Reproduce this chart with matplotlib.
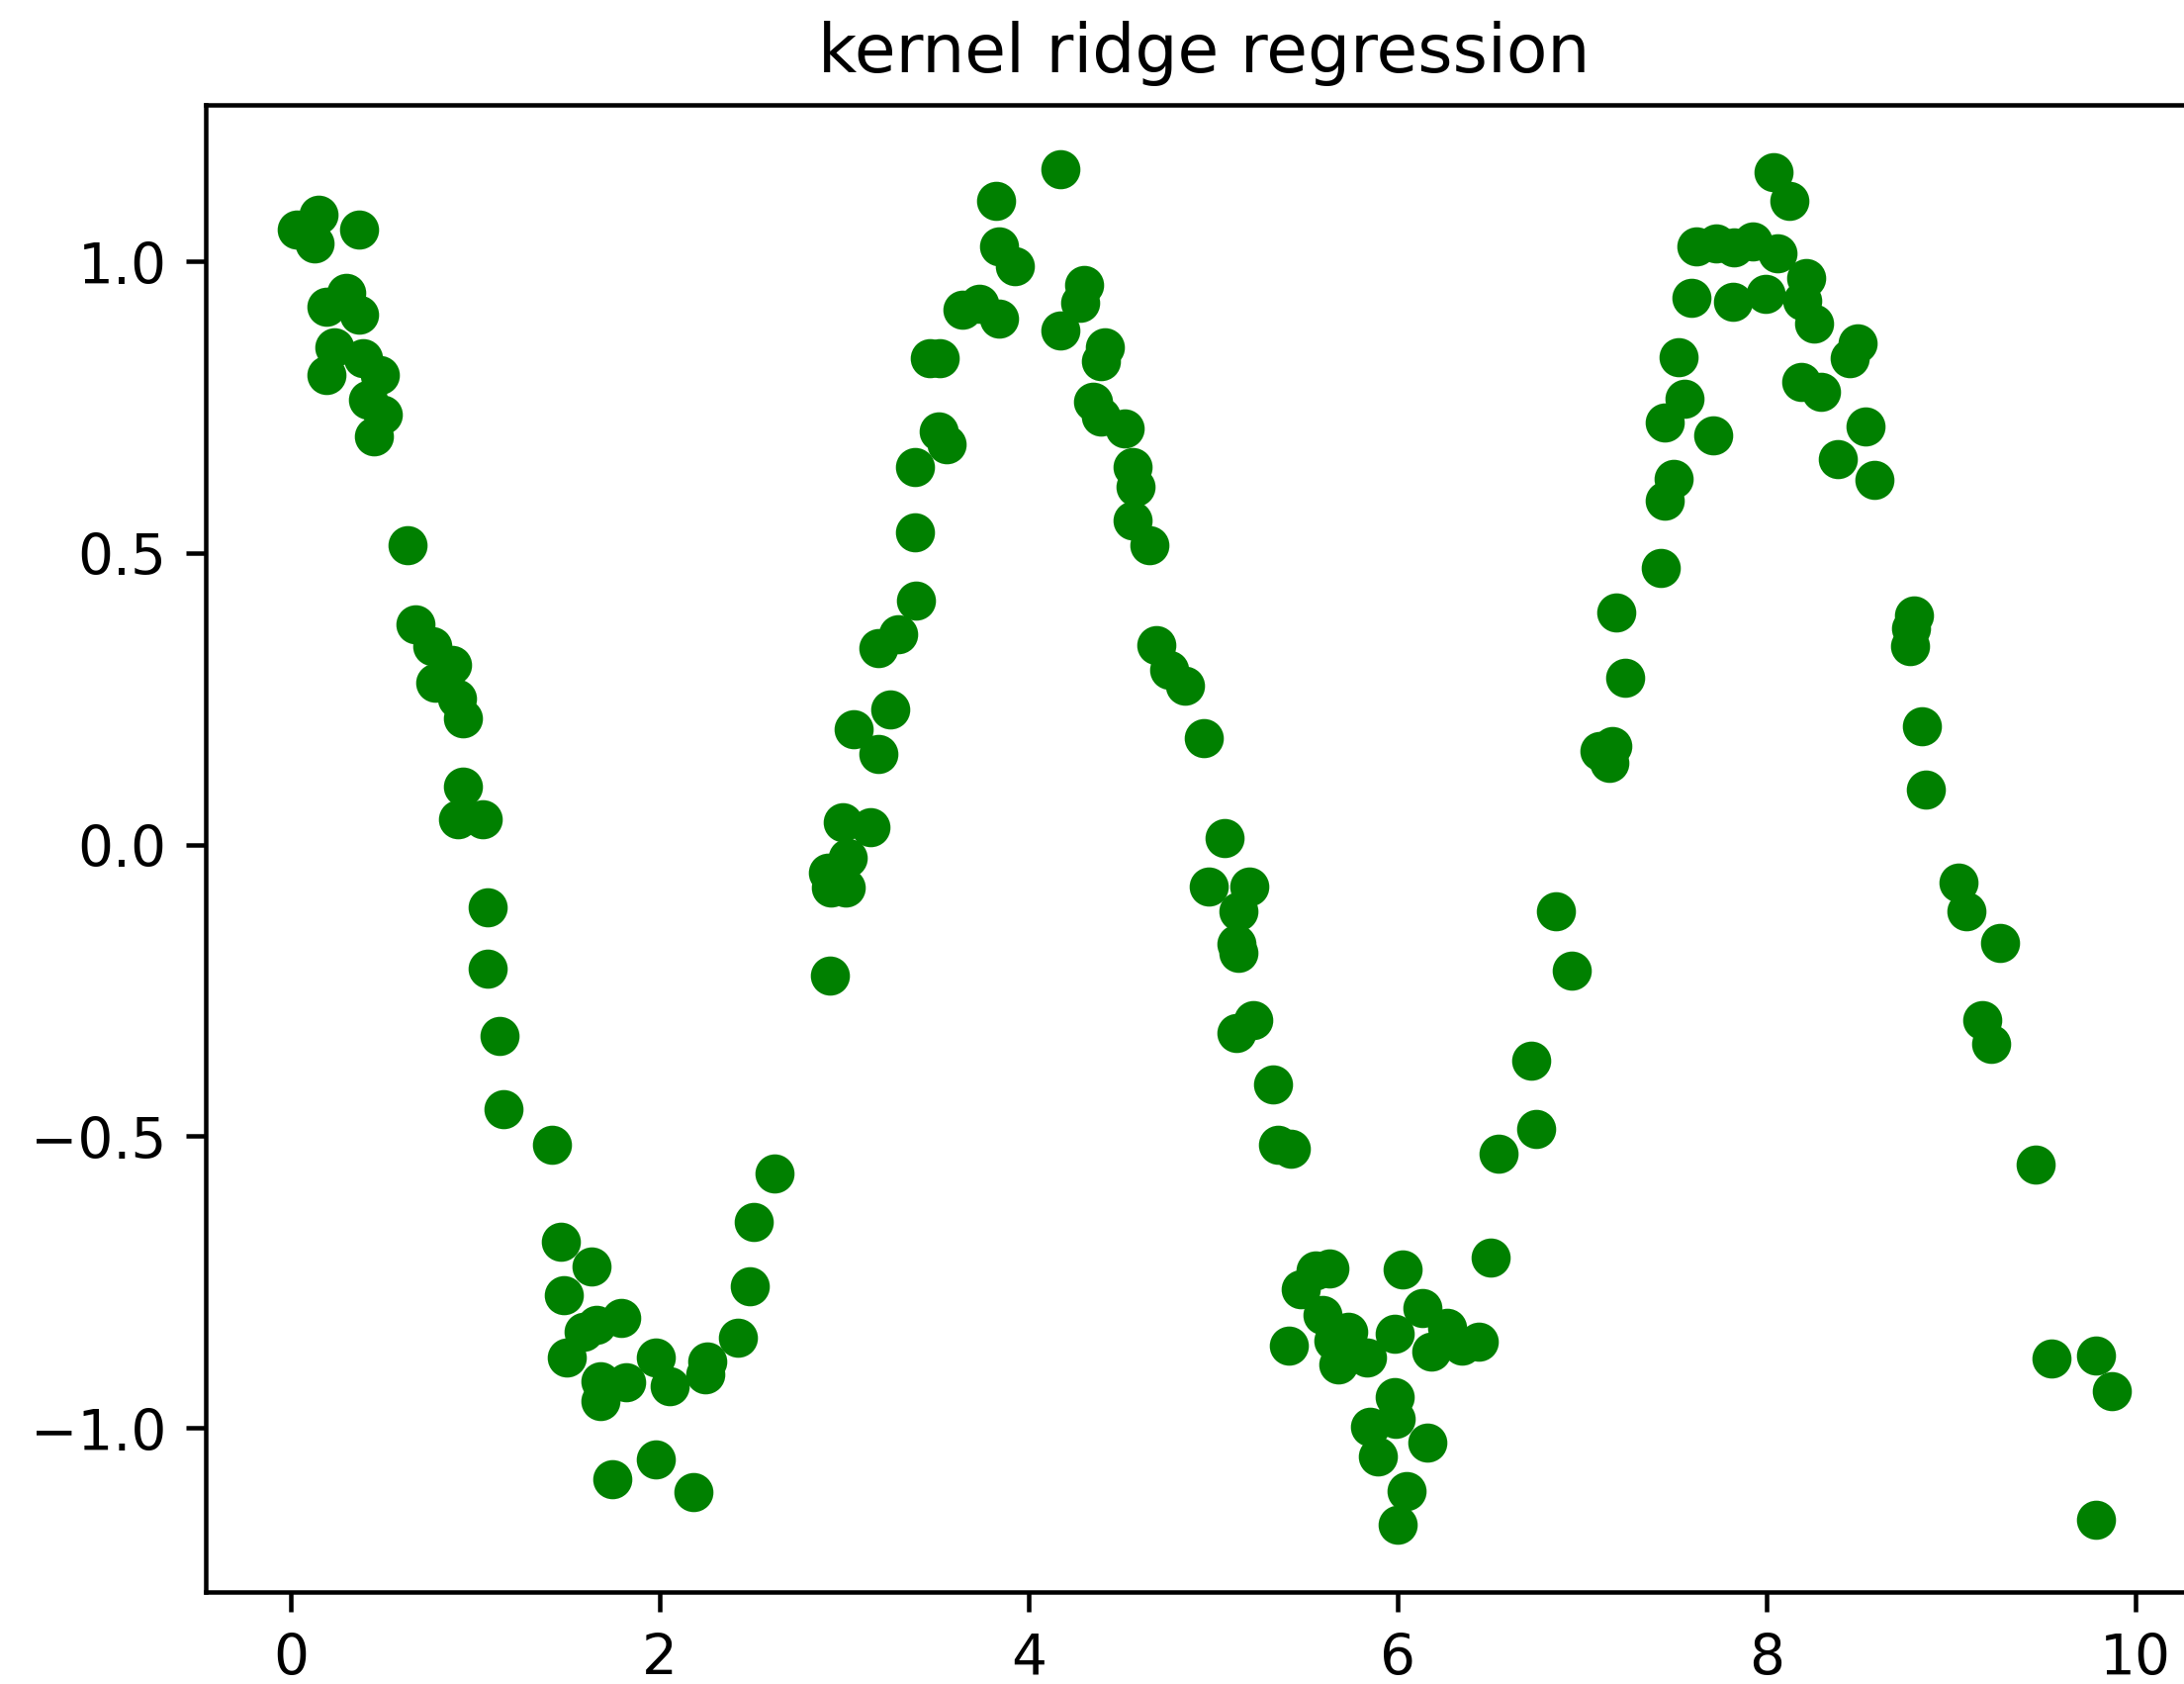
import matplotlib
matplotlib.use("Agg")
import matplotlib.pyplot as plt

# points, roughly in x order
x = [0.031, 0.147, 0.129, 0.370, 0.191, 0.299, 0.370, 0.236, 0.388, 0.191,
     0.479, 0.415, 0.495, 0.450, 0.629, 0.673, 0.764, 0.871, 0.781, 0.898,
     0.933, 0.933, 0.906, 1.040, 1.067, 1.067, 1.130, 1.153, 1.416, 1.461,
     1.630, 1.478, 1.586, 1.657, 1.791, 1.496, 1.675, 1.675, 1.818, 1.979,
     2.050, 1.743, 1.979, 2.179, 2.247, 2.256, 2.422, 2.488, 2.510, 2.619,
     2.922, 2.908, 2.926, 3.006, 3.016, 2.989, 3.140, 2.950, 3.051, 3.185,
     3.247, 3.185, 3.292, 3.387, 3.381, 3.381, 3.512, 3.555, 3.462, 3.515,
     3.641, 3.730, 3.838, 3.820, 3.838, 3.926, 4.168, 4.168, 4.276, 4.299,
     4.410, 4.392, 4.346, 4.392, 4.517, 4.561, 4.579, 4.561, 4.651, 4.692,
     4.758, 4.847, 4.946, 5.062, 4.972, 5.196, 5.134, 5.124, 5.134, 5.214,
     5.124, 5.324, 5.348, 5.419, 5.472, 5.553, 5.628, 5.410, 5.589, 5.732,
     5.678, 5.831, 5.700, 5.650, 5.983, 6.134, 6.268, 6.179, 6.348, 6.438,
     5.983, 5.990, 5.849, 5.892, 6.157, 6.045, 6.000, 6.027, 6.504, 6.545,
     6.747, 6.724, 6.855, 6.944, 7.091, 7.144, 7.163, 7.184, 7.230, 7.425,
     7.448, 7.493, 7.448, 7.555, 7.520, 7.590, 7.618, 7.725, 7.823, 7.922,
     8.056, 7.707, 7.814, 7.993, 8.038, 8.123, 8.213, 8.191, 8.256, 8.189,
     8.296, 8.449, 8.493, 8.385, 8.537, 8.581, 8.797, 8.780, 8.774, 8.842,
     8.863, 9.040, 9.083, 9.262, 9.169, 9.217, 9.459, 9.543, 9.784, 9.870,
     9.784]
y = [1.054, 1.079, 1.031, 1.054, 0.922, 0.946, 0.909, 0.853, 0.833, 0.805,
     0.805, 0.763, 0.737, 0.700, 0.514, 0.377, 0.341, 0.308, 0.278, 0.251,
     0.216, 0.099, 0.044, 0.044, -0.107, -0.212, -0.329, -0.453, -0.515, -0.681,
     -0.724, -0.772, -0.835, -0.824, -0.812, -0.880, -0.920, -0.954, -0.922, -0.880,
     -0.928, -1.089, -1.054, -1.111, -0.908, -0.886, -0.846, -0.757, -0.647, -0.564,
     -0.225, -0.049, -0.074, -0.074, -0.023, 0.039, 0.030, -0.060, 0.197, 0.155,
     0.231, 0.336, 0.361, 0.418, 0.535, 0.647, 0.709, 0.686, 0.833, 0.833,
     0.917, 0.927, 0.902, 1.103, 1.025, 0.992, 1.158, 0.881, 0.929, 0.960,
     0.853, 0.828, 0.760, 0.734, 0.714, 0.647, 0.613, 0.556, 0.514, 0.342,
     0.299, 0.273, 0.183, 0.011, -0.072, -0.072, -0.114, -0.170, -0.185, -0.301,
     -0.323, -0.411, -0.515, -0.521, -0.762, -0.730, -0.727, -0.860, -0.807, -0.835,
     -0.891, -0.880, -0.860, -0.850, -0.838, -0.795, -0.829, -0.869, -0.860, -0.852,
     -0.948, -0.985, -0.999, -1.050, -1.026, -1.109, -1.166, -0.729, -0.709, -0.530,
     -0.487, -0.371, -0.114, -0.217, 0.160, 0.140, 0.169, 0.398, 0.286, 0.474,
     0.590, 0.627, 0.723, 0.765, 0.836, 0.938, 1.025, 1.031, 1.023, 1.034,
     1.014, 0.701, 0.931, 0.944, 1.153, 1.103, 0.972, 0.932, 0.893, 0.793,
     0.777, 0.833, 0.859, 0.661, 0.716, 0.625, 0.392, 0.370, 0.341, 0.203,
     0.094, -0.066, -0.114, -0.169, -0.301, -0.342, -0.549, -0.881, -0.876, -0.937,
     -1.157]

dpi = 407
fig = plt.figure(figsize=(2208 / dpi, 1703 / dpi), dpi=dpi)
# the reference is a crop, the axes runs a bit past the right edge
ax = fig.add_axes([0.0943, 0.0546, 0.9142, 0.8827])
ax.scatter(x, y, c='g')
ax.set_xlim(-0.461, 10.362)
ax.set_ylim(-1.2816, 1.2685)
ax.set_title('kernel ridge regression')

fig.savefig('out.png', dpi=dpi)
